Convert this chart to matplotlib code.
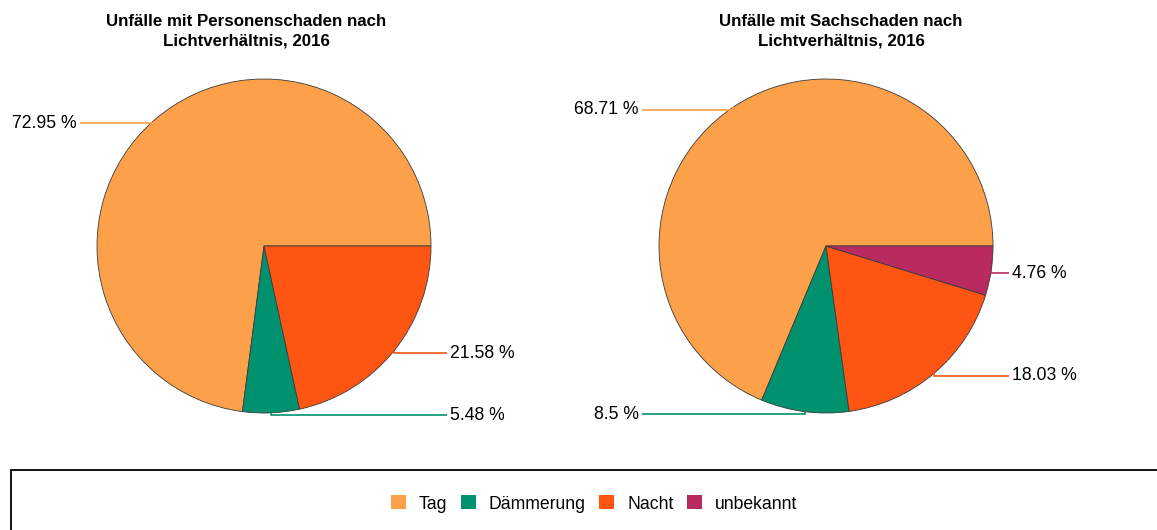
import numpy as np
import matplotlib.pyplot as plt
from matplotlib.patches import Patch, Rectangle

plt.rcParams['font.family'] = ['Liberation Sans', 'DejaVu Sans']

## daten
kategorien = ["Tag", "Dämmerung", "Nacht", "unbekannt"]
farben = ["#FDA04A", "#00916E", "#FE5512", "#B82A60"]
personen = [72.95, 5.48, 21.58]
personen_txt = ["72.95 %", "5.48 %", "21.58 %"]
sach = [68.71, 8.5, 18.03, 4.76]
sach_txt = ["68.71 %", "8.5 %", "18.03 %", "4.76 %"]
titel = ["Unfälle mit Personenschaden nach\nLichtverhältnis, 2016",
         "Unfälle mit Sachschaden nach\nLichtverhältnis, 2016"]

W, H = 1157, 530
fig = plt.figure(figsize=(W / 100, H / 100), dpi=100)
ax = fig.add_axes([0, 0, 1, 1])
ax.axis("off")

def kuchen(werte, texte, cx, cy, r):
    wedges, _ = ax.pie(werte, colors=farben[:len(werte)], center=(cx, H - cy), radius=r,
                       startangle=0, counterclock=True,
                       wedgeprops=dict(edgecolor="#3a3a3a", linewidth=0.6))
    for w, t, c in zip(wedges, texte, farben):
        mid = np.deg2rad((w.theta1 + w.theta2) / 2)
        ex = cx + r * np.cos(mid)
        ey = H - cy + r * np.sin(mid)
        ly = ey - 2.5
        if np.cos(mid) >= 0:
            lx = cx + 183
            ax.plot([ex, ex, lx], [ey, ly, ly], color=c, lw=1.2, solid_capstyle="butt")
            ax.text(lx + 3, ly, t, ha="left", va="center", fontsize=12.7)
        else:
            lx = cx - 184
            ax.plot([ex, ex, lx], [ey, ly, ly], color=c, lw=1.2, solid_capstyle="butt")
            ax.text(lx - 3, ly, t, ha="right", va="center", fontsize=12.7)

kuchen(personen, personen_txt, 264, 246, 167)
kuchen(sach, sach_txt, 826, 246, 167)
ax.set_aspect("auto")
ax.set_xlim(0, W)
ax.set_ylim(0, H)

ax.text(246, H - 31, titel[0], ha="center", va="center", fontsize=12.2,
        fontweight="bold", linespacing=1.35)
ax.text(841, H - 31, titel[1], ha="center", va="center", fontsize=12.2,
        fontweight="bold", linespacing=1.35)

## legendenrahmen
ax.add_patch(Rectangle((10.5, -20), W + 20, H - 470 + 20, fill=False,
                       edgecolor="black", lw=1.3, clip_on=False))

handles = [Patch(facecolor=c, edgecolor="none") for c in farben]
fig.legend(handles, kategorien, loc="center", bbox_to_anchor=(594 / W, 1 - 504 / H),
           ncol=4, frameon=False, fontsize=12.7, handlelength=0.85, handleheight=0.85,
           handletextpad=0.75, columnspacing=0.75)

fig.savefig("out.png", dpi=100)
